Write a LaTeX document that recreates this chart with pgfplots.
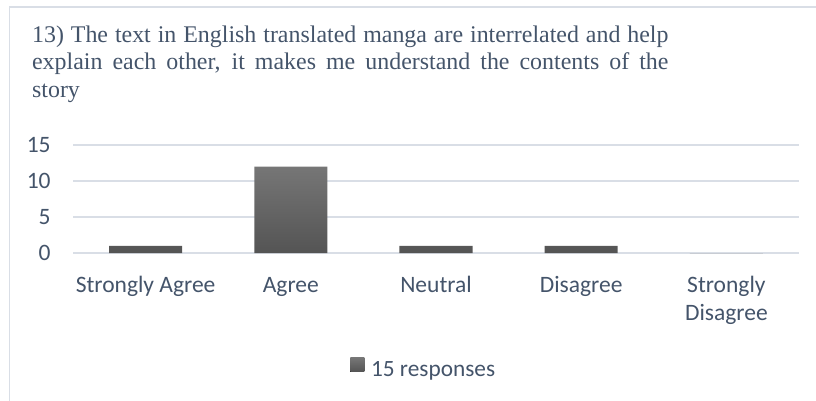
\documentclass[border=0pt]{standalone}
\usepackage{fontspec}
\setmainfont{Liberation Serif}
\newfontfamily\calibri{Carlito}
\usepackage{pgfplots}
\pgfplotsset{compat=1.18}
\definecolor{txt}{HTML}{44546A}
\definecolor{gridc}{HTML}{D9DEE6}
\definecolor{borderc}{HTML}{D9DEE6}
\definecolor{barTop}{HTML}{767676}
\definecolor{barBot}{HTML}{545454}
\begin{document}
\begin{tikzpicture}
\path[use as bounding box] (0,0) rectangle (408bp,200.5bp);
\draw[borderc, line width=0.7bp] (4.75bp,-1bp) -- (4.75bp,197bp) -- (409bp,197bp);
\node[anchor=north west, inner sep=0pt, text width=318.2bp, align=justify,
      font=\fontsize{12}{13.75}\selectfont, text=txt] at (15.85bp,187.7bp)
 {13) The text in English translated manga are interrelated and help\linebreak
  explain each other, it makes me understand the contents of the\linebreak
  story};
\begin{axis}[
  at={(36.5bp,74bp)}, anchor=south west, scale only axis,
  width=363bp, height=54bp,
  xmin=-0.5, xmax=4.5, ymin=0, ymax=15,
  ytick={0,5,10,15},
  xtick={0,1,2,3,4},
  xticklabels={\strut Strongly Agree, \strut Agree, \strut Neutral, \strut Disagree, {\strut Strongly\\Disagree}},
  axis line style={draw=none}, major tick length=0pt,
  ymajorgrids, grid style={gridc, line width=0.75bp},
  ybar, bar width=36.5bp,
  tick label style={font=\calibri\fontsize{11.8}{14}\selectfont, text=txt},
  yticklabel style={anchor=east, inner sep=0pt, xshift=-11bp},
  xticklabel style={anchor=north, inner sep=0pt, align=center, yshift=-9.95bp},
  /pgf/number format/assume math mode=true,
  legend style={draw=none, fill=none, inner sep=0pt, at={(0.3815,-1.072)}, anchor=west,
     font=\calibri\fontsize{11.7}{14}\selectfont, text=txt, nodes={inner sep=0pt},
     /tikz/every even column/.append style={column sep=0pt}},
  clip=false,
]
\addplot[bar shift=0pt, draw=none, top color=barTop, bottom color=barBot,
  legend image code/.code={\fill[top color=barTop, bottom color=barBot, draw=none] (0bp,-0.5bp) rectangle (7bp,6.5bp); \path (10.35bp,0bp);}]
  coordinates {(0,1) (1,12) (2,1) (3,1)};
\addlegendentry{15 responses}
\addplot[forget plot, bar shift=0pt, draw=none, fill=barBot] coordinates {(4,0)};
\end{axis}
\end{tikzpicture}
\end{document}
